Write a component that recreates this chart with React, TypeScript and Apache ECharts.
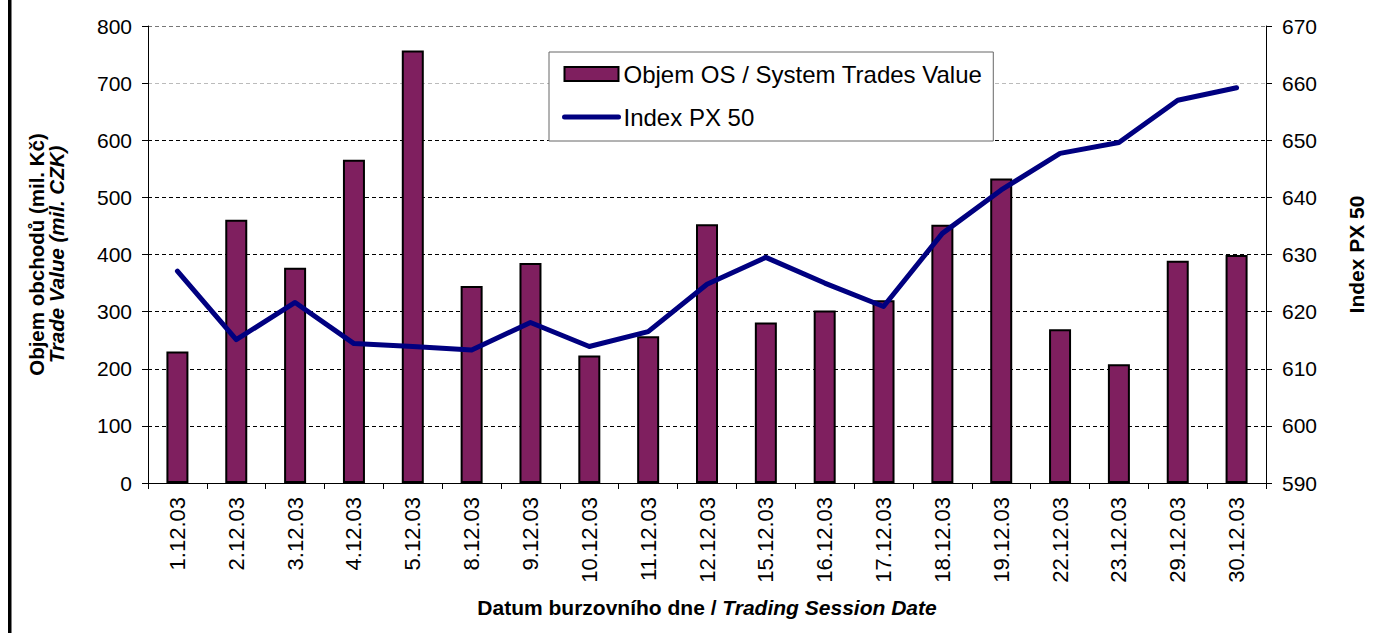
import React, { useEffect, useRef } from "react";
import * as echarts from "echarts";

const categories = [
  "1.12.03", "2.12.03", "3.12.03", "4.12.03", "5.12.03", "8.12.03", "9.12.03",
  "10.12.03", "11.12.03", "12.12.03", "15.12.03", "16.12.03", "17.12.03",
  "18.12.03", "19.12.03", "22.12.03", "23.12.03", "29.12.03", "30.12.03",
];
const tradeValue = [230, 461, 377, 566, 757, 345, 385, 223, 257, 453, 281, 302, 320, 452, 533, 269, 208, 389, 399];
const px50 = [627.1, 615.1, 621.6, 614.4, 613.9, 613.3, 618.1, 613.9, 616.5, 624.8, 629.5, 625.0, 620.9, 633.7, 641.3, 647.7, 649.6, 657.0, 659.2];

const FONT = "'Liberation Sans', Arial, sans-serif";

export default function App() {
  const ref = useRef<HTMLDivElement>(null);
  useEffect(() => {
    if (!ref.current) return;
    const chart = echarts.init(ref.current, null, { renderer: "svg" });
    const gridColors = ["#000", "#000", "#000", "#000", "#000", "#000", "#000", "#bbb", "#777"];
    chart.setOption({
      animation: false,
      backgroundColor: "#fff",
      textStyle: { fontFamily: FONT },
      grid: { left: 148, right: 119, top: 26, bottom: 150 },
      legend: {
        orient: "vertical",
        left: 549,
        top: 52,
        padding: [10, 11, 12, 13],
        itemGap: 19,
        itemWidth: 54,
        itemHeight: 14,
        borderColor: "#666",
        borderWidth: 1,
        backgroundColor: "#fff",
        textStyle: { fontSize: 24, color: "#000", fontFamily: FONT },
        data: [
          { name: "Objem OS / System Trades Value", icon: "rect", itemStyle: { borderColor: "#000", borderWidth: 2 } },
          {
            name: "Index PX 50",
            itemStyle: { color: "rgba(0,0,0,0)", borderWidth: 0, opacity: 0 },
            lineStyle: { width: 5, color: "#000080", cap: "round" },
          },
        ],
      },
      graphic: [
        { type: "rect", shape: { x: 8, y: 0, width: 3.5, height: 633 }, style: { fill: "#000" }, silent: true },
      ],
      xAxis: {
        type: "category",
        data: categories,
        axisLine: { lineStyle: { color: "#000", width: 1 } },
        axisTick: { show: true, length: 6, lineStyle: { color: "#000" } },
        axisLabel: { rotate: 90, fontSize: 22, color: "#000", margin: 14, fontFamily: FONT },
        name: "{b|Datum burzovního dne / }{i|Trading Session Date}",
        nameLocation: "middle",
        nameGap: 114,
        nameTextStyle: {
          rich: {
            b: { fontSize: 21, fontWeight: "bold", color: "#000", fontFamily: FONT },
            i: { fontSize: 21, fontWeight: "bold", fontStyle: "italic", color: "#000", fontFamily: FONT },
          },
        },
      },
      yAxis: [
        {
          type: "value",
          min: 0,
          max: 800,
          interval: 100,
          axisLine: { show: true, lineStyle: { color: "#000", width: 1 } },
          axisTick: { show: true, length: 6, lineStyle: { color: "#000" } },
          axisLabel: { fontSize: 21, color: "#000", margin: 16, fontFamily: FONT },
          splitLine: { show: true, lineStyle: { color: gridColors, type: [4, 3], width: 1 } },
          name: "{a|Objem obchodů (mil. Kč)}\n{i|Trade Value (mil. CZK)}",
          nameLocation: "middle",
          nameRotate: 90,
          nameGap: 82,
          nameTextStyle: {
            lineHeight: 20,
            rich: {
              a: { fontSize: 20.5, fontWeight: "bold", color: "#000", fontFamily: FONT, lineHeight: 20 },
              i: { fontSize: 20.5, fontWeight: "bold", fontStyle: "italic", color: "#000", fontFamily: FONT, lineHeight: 20 },
            },
          },
        },
        {
          type: "value",
          min: 590,
          max: 670,
          interval: 10,
          position: "right",
          axisLine: { show: true, lineStyle: { color: "#000", width: 1 } },
          axisTick: { show: true, length: 6, lineStyle: { color: "#000" } },
          axisLabel: { fontSize: 21, color: "#000", margin: 16, fontFamily: FONT },
          splitLine: { show: false },
          name: "Index PX 50",
          nameLocation: "middle",
          nameRotate: 90,
          nameGap: 80,
          nameTextStyle: { fontSize: 21, fontWeight: "bold", color: "#000", fontFamily: FONT },
        },
      ],
      series: [
        {
          name: "Objem OS / System Trades Value",
          type: "bar",
          data: tradeValue,
          barWidth: 22,
          itemStyle: { color: "#7F1F5F", borderColor: "#000", borderWidth: 2 },
        },
        {
          name: "Index PX 50",
          type: "line",
          yAxisIndex: 1,
          data: px50,
          symbol: "none",
          lineStyle: { color: "#000080", width: 5, cap: "round", join: "round" },
          itemStyle: { color: "#000080" },
        },
      ],
    });
    return () => chart.dispose();
  }, []);
  return (
    <div
      ref={ref}
      style={{ position: "absolute", left: 0, top: 0, width: 1385, height: 633 }}
    />
  );
}
